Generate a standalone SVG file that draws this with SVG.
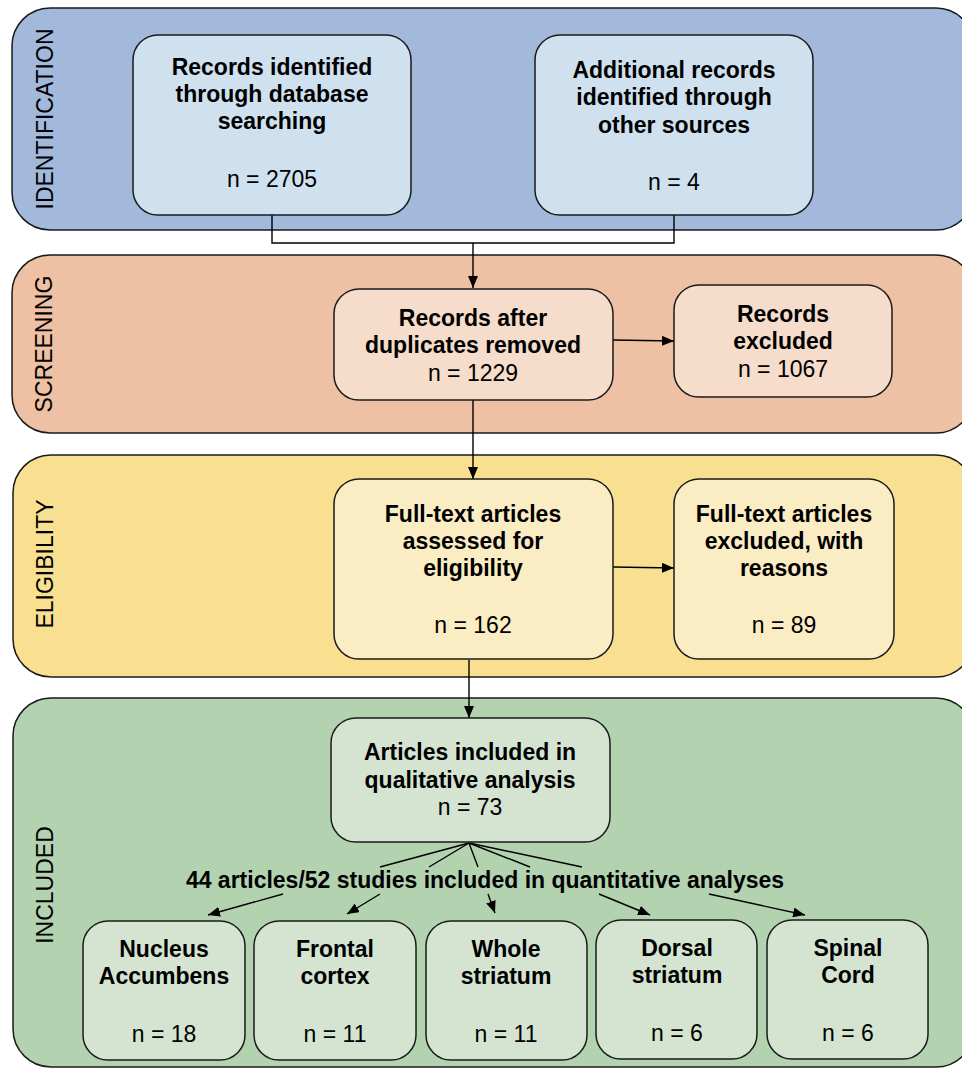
<svg xmlns="http://www.w3.org/2000/svg" width="962" height="1068" viewBox="0 0 962 1068">
<defs>
<marker id="arr" viewBox="0 0 12 10" refX="12" refY="5" markerWidth="12" markerHeight="10" markerUnits="userSpaceOnUse" orient="auto">
<path d="M0,0 L12,5 L0,10 Z" fill="#000"/>
</marker>
<style>
text{font-family:"Liberation Sans",Arial,Helvetica,sans-serif;font-size:23px;fill:#000;text-anchor:middle}
.b{font-weight:bold}
.band{stroke:#1a1a1a;stroke-width:1.5}
.node{stroke:#1a1a1a;stroke-width:1.5}
.c{fill:none;stroke:#000;stroke-width:1.4}
.lab{font-size:23px}
</style>
</defs>
<rect width="962" height="1068" fill="#fff"/>

<g id="band-identification">
<rect class="band" x="12" y="8" width="962" height="222" rx="38" fill="#a2b9db"/>
<text class="lab" transform="translate(53,119) rotate(-90)">IDENTIFICATION</text>
</g>
<g id="band-screening">
<rect class="band" x="12" y="255" width="962" height="178" rx="38" fill="#eec0a4"/>
<text class="lab" transform="translate(52,344) rotate(-90)">SCREENING</text>
</g>
<g id="band-eligibility">
<rect class="band" x="13" y="455" width="961" height="222" rx="38" fill="#f8e090"/>
<text class="lab" transform="translate(53,564) rotate(-90)">ELIGIBILITY</text>
</g>
<g id="band-included">
<rect class="band" x="13" y="698" width="961" height="369" rx="38" fill="#b2d2b0"/>
<text class="lab" transform="translate(53,885) rotate(-90)">INCLUDED</text>
</g>

<g id="connectors">
<path class="c" d="M272,215 V243 H674 V215"/>
<path class="c" d="M473,243 V288" marker-end="url(#arr)"/>
<path class="c" d="M473,400 V479" marker-end="url(#arr)"/>
<path class="c" d="M613,340 L674,341" marker-end="url(#arr)"/>
<path class="c" d="M613,567 L674,568" marker-end="url(#arr)"/>
<path class="c" d="M469,660 V718" marker-end="url(#arr)"/>
<path class="c" d="M469,843 L380,867 M283,894 L208,915" marker-end="url(#arr)"/>
<path class="c" d="M469,843 L429,867 M380,894 L347,914" marker-end="url(#arr)"/>
<path class="c" d="M469,843 L478,867 M488,894 L495,913" marker-end="url(#arr)"/>
<path class="c" d="M469,843 L530,867 M599,894 L650,915" marker-end="url(#arr)"/>
<path class="c" d="M469,843 L582,867 M709,894 L805,915" marker-end="url(#arr)"/>
<text class="b" x="485" y="888">44 articles/52 studies included in quantitative analyses</text>
</g>

<g id="n-database">
<rect class="node" x="133" y="35" width="278" height="180" rx="25" fill="#cfe0ee"/>
<text class="b" x="272" y="75">Records identified</text>
<text class="b" x="272" y="102">through database</text>
<text class="b" x="272" y="129">searching</text>
<text x="272" y="187">n = 2705</text>
</g>
<g id="n-other">
<rect class="node" x="535" y="35" width="278" height="180" rx="25" fill="#cfe0ee"/>
<text class="b" x="674" y="78">Additional records</text>
<text class="b" x="674" y="105">identified through</text>
<text class="b" x="674" y="133">other sources</text>
<text x="674" y="190">n = 4</text>
</g>
<g id="n-dedup">
<rect class="node" x="334" y="289" width="279" height="111" rx="25" fill="#f6dcca"/>
<text class="b" x="473" y="326">Records after</text>
<text class="b" x="473" y="353">duplicates removed</text>
<text x="473" y="381">n = 1229</text>
</g>
<g id="n-excluded">
<rect class="node" x="674" y="285" width="218" height="112" rx="25" fill="#f6dcca"/>
<text class="b" x="783" y="322">Records</text>
<text class="b" x="783" y="349">excluded</text>
<text x="783" y="377">n = 1067</text>
</g>
<g id="n-fulltext">
<rect class="node" x="334" y="479" width="279" height="180" rx="25" fill="#fbedc3"/>
<text class="b" x="473" y="522">Full-text articles</text>
<text class="b" x="473" y="549">assessed for</text>
<text class="b" x="473" y="576">eligibility</text>
<text x="473" y="633">n = 162</text>
</g>
<g id="n-ftexcluded">
<rect class="node" x="674" y="479" width="220" height="180" rx="25" fill="#fbedc3"/>
<text class="b" x="784" y="522">Full-text articles</text>
<text class="b" x="784" y="549">excluded, with</text>
<text class="b" x="784" y="576">reasons</text>
<text x="784" y="633">n = 89</text>
</g>
<g id="n-qualitative">
<rect class="node" x="331" y="718" width="279" height="124" rx="25" fill="#d4e4d1"/>
<text class="b" x="470" y="760">Articles included in</text>
<text class="b" x="470" y="788">qualitative analysis</text>
<text x="470" y="815">n = 73</text>
</g>
<g id="n-nacc">
<rect class="node" x="83" y="921" width="162" height="139" rx="25" fill="#d4e4d1"/>
<text class="b" x="164" y="957">Nucleus</text>
<text class="b" x="164" y="984">Accumbens</text>
<text x="164" y="1042">n = 18</text>
</g>
<g id="n-frontal">
<rect class="node" x="254" y="921" width="162" height="139" rx="25" fill="#d4e4d1"/>
<text class="b" x="335" y="957">Frontal</text>
<text class="b" x="335" y="984">cortex</text>
<text x="335" y="1042">n = 11</text>
</g>
<g id="n-whole">
<rect class="node" x="426" y="921" width="161" height="139" rx="25" fill="#d4e4d1"/>
<text class="b" x="506" y="957">Whole</text>
<text class="b" x="506" y="984">striatum</text>
<text x="506" y="1042">n = 11</text>
</g>
<g id="n-dorsal">
<rect class="node" x="596" y="920" width="161" height="139" rx="25" fill="#d4e4d1"/>
<text class="b" x="677" y="956">Dorsal</text>
<text class="b" x="677" y="983">striatum</text>
<text x="677" y="1041">n = 6</text>
</g>
<g id="n-spinal">
<rect class="node" x="767" y="920" width="161" height="139" rx="25" fill="#d4e4d1"/>
<text class="b" x="848" y="956">Spinal</text>
<text class="b" x="848" y="983">Cord</text>
<text x="848" y="1041">n = 6</text>
</g>
</svg>
